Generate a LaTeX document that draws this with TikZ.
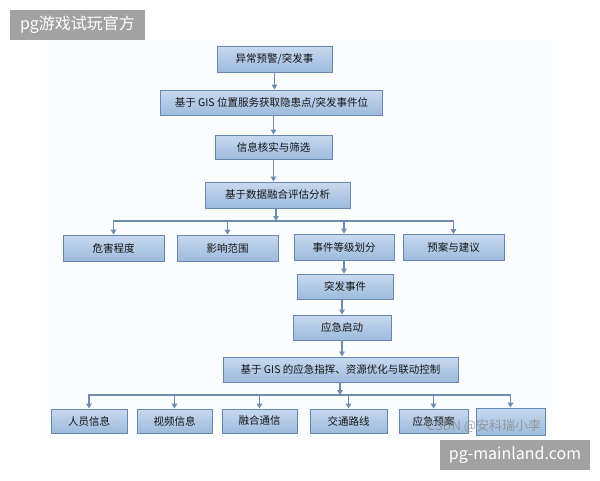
\documentclass[tikz,border=0pt]{standalone}
\usepackage{fontspec}
\setmainfont{Noto Sans CJK SC}
\usetikzlibrary{arrows.meta,positioning}
\definecolor{boxtop}{HTML}{C8D9EE}
\definecolor{boxbot}{HTML}{9DBADD}
\definecolor{boxline}{HTML}{6786B0}
\definecolor{linkc}{HTML}{6F8CB0}
\definecolor{markgray}{HTML}{A2A2A2}
\definecolor{panelc}{HTML}{FBFCFD}

\begin{document}
\begin{tikzpicture}[
  x=1pt, y=-1pt,
  font=\fontsize{10.5}{12}\selectfont,
  b/.style={draw=boxline, line width=0.9pt, top color=boxtop, bottom color=boxbot,
            minimum height=25, inner sep=0pt, text=black!92},
  arr/.style={-{Triangle[length=5pt,width=5.5pt]}, draw=linkc, line width=1.3pt},
  wmark/.style={fill=markgray, text=white, inner sep=0pt, minimum height=30,
                font=\fontsize{16}{18}\selectfont}
]
\useasboundingbox (0,0) rectangle (600,480);
\fill[panelc] (47,40) rectangle (552,440);

\node[b, minimum width=115, minimum height=26] (warn) at (274.5,59) {异常预警/突发事};
\node[b, minimum width=222] (gisloc) at (271.5,102.5) {基于 GIS 位置服务获取隐患点/突发事件位};
\node[b, minimum width=117, minimum height=24] (check) at (273.5,147) {信息核实与筛选};
\node[b, minimum width=145, minimum height=26] (fuse) at (277.5,195) {基于数据融合评估分析};
\coordinate (bus1) at (276,221);

\node[b, minimum width=101, minimum height=26] (harm) at (113.5,248) {危害程度};
\node[b, minimum width=101, minimum height=26] (range) at (227.5,248) {影响范围};
\node[b, minimum width=100, minimum height=26] (level) at (344,247) {事件等级划分};
\node[b, minimum width=101, minimum height=26] (plan) at (453.5,247.5) {预案与建议};

\node[b, minimum width=96] (event) at (345,286.5) {突发事件};
\node[b, minimum width=98] (start) at (342,327.5) {应急启动};
\node[b, minimum width=235] (cmd) at (340.5,369.5) {基于 GIS 的应急指挥、资源优化与联动控制};
\coordinate (bus2) at (340,395);

\node[b, minimum width=76, minimum height=24] (staff) at (89,421) {人员信息};
\node[b, minimum width=75, minimum height=24] (video) at (174.5,421) {视频信息};
\node[b, minimum width=75, minimum height=24] (comm) at (259.5,421) {融合通信};
\node[b, minimum width=77, minimum height=24] (route) at (348.5,421) {交通路线};
\node[b, minimum width=69, minimum height=24] (eplan) at (433.5,421) {应急预案};
\node[b, minimum width=69, minimum height=27] (extra) at (510.5,421.5) {};

\draw[arr] (warn) -- (warn |- gisloc.north);
\draw[arr] (gisloc.south -| check) -- (check);
\draw[arr] (check) -- (check |- fuse.north);
\draw[arr] (bus1 |- fuse.south) -- (bus1);
\foreach \t in {harm, range, level, plan} {
  \draw[arr] (bus1) -| (\t);
}
\draw[arr] (level) -- (level |- event.north);
\draw[arr] (start |- event.south) -- (start);
\draw[arr] (start) -- (start |- cmd.north);
\draw[arr] (bus2 |- cmd.south) -- (bus2);
\foreach \t in {staff, video, comm, route, eplan, extra} {
  \draw[arr] (bus2) -| (\t);
}

\node[text=black!45, opacity=0.8, font=\fontsize{13}{15}\selectfont] (csdn) at (484,426) {CSDN @安科瑞小李};
\node[wmark, minimum width=135] (tl) at (77.5,25) {pg游戏试玩官方};
\node[wmark, minimum width=150] (br) at (515,455) {pg-mainland.com};
\end{tikzpicture}
\end{document}
